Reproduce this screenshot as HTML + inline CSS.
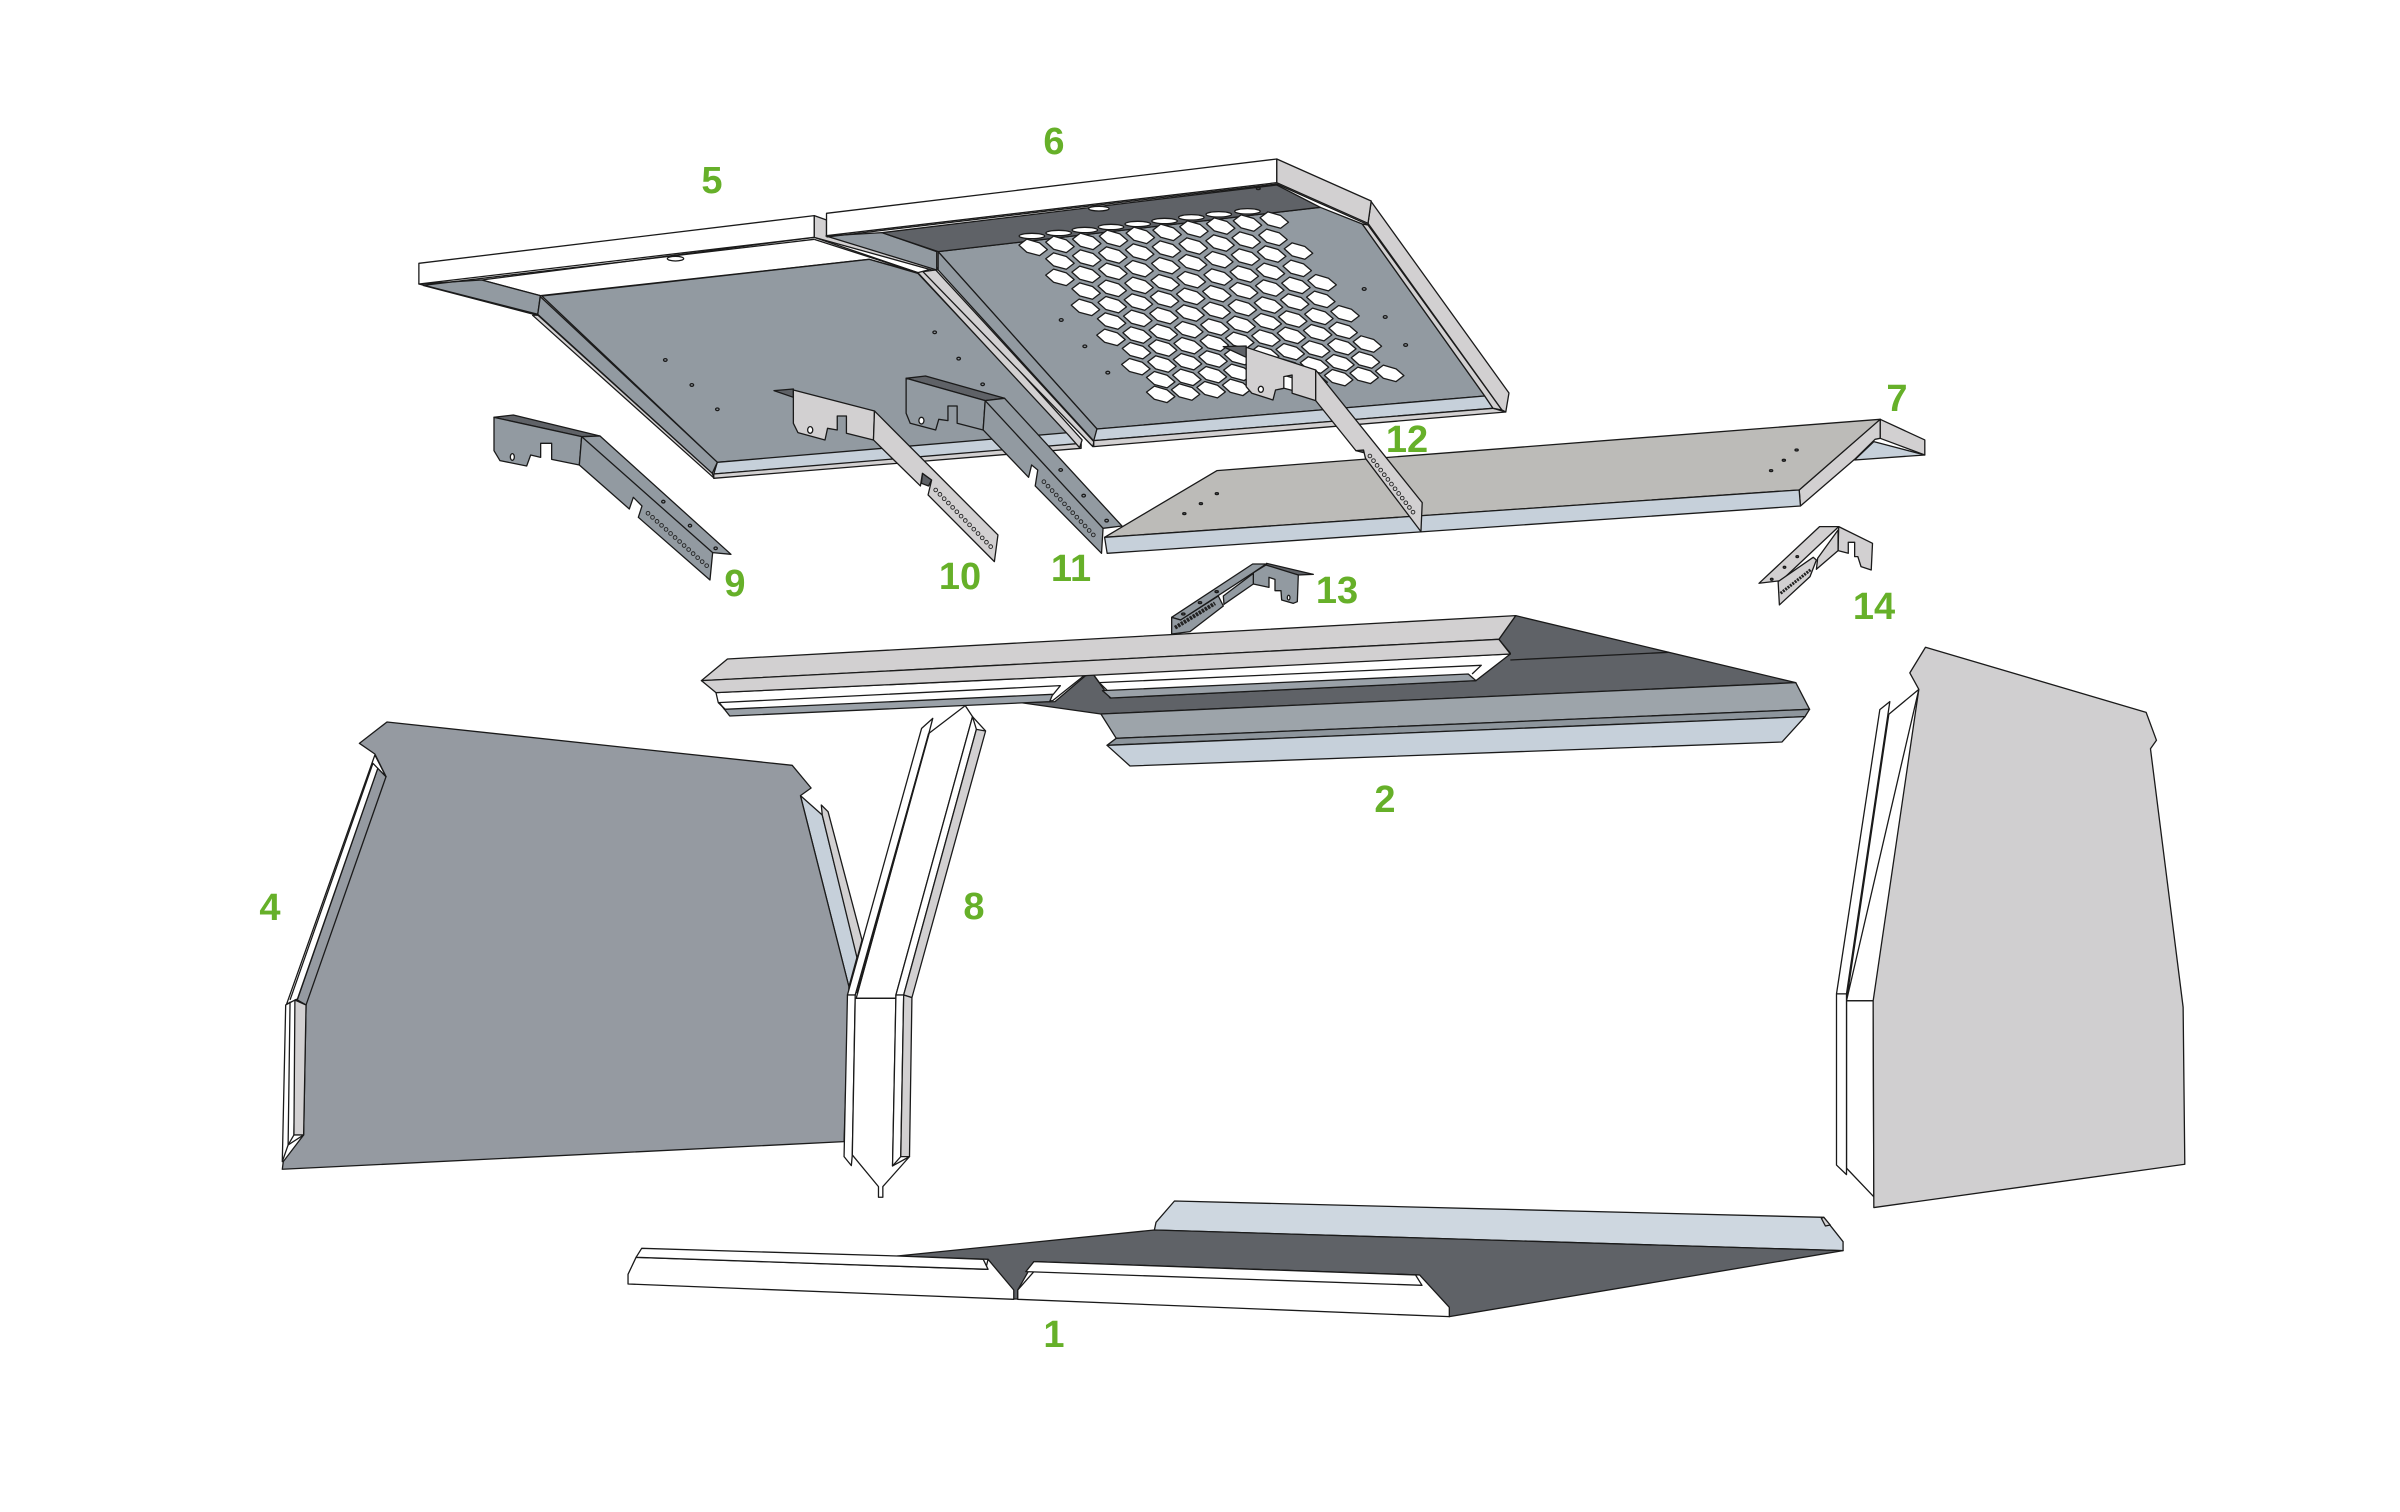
<!DOCTYPE html>
<html><head><meta charset="utf-8"><title>Exploded panel diagram</title>
<style>
html,body{margin:0;padding:0;background:#fff}
svg{display:block}
svg polygon,svg polyline,svg line,svg ellipse,svg path{vector-effect:non-scaling-stroke;stroke:#1a1a1a;stroke-width:1.3;stroke-linejoin:round}
.g{fill:#929aa1}.d{fill:#5f6267}.l{fill:#d2d0d1}.b{fill:#c6d0da}.w{fill:#fff}.t{fill:#bcbbb8}
svg line.no{stroke-linecap:round}
svg polygon.h{fill:#fff;stroke:#1c1c1c;stroke-width:1.3}
svg text{font-family:"Liberation Sans",sans-serif;font-weight:700;font-size:38px;fill:#66b029;text-anchor:middle}
</style></head>
<body>
<svg width="2400" height="1512" viewBox="0 0 2400 1512" xmlns="http://www.w3.org/2000/svg">
<defs><polygon id="h" class="h" points="-22.3,-5.6 -10,-23.5 10,-12.3 22.3,7.8 10,25.8 -10,15.7"/></defs>
<rect width="2400" height="1512" fill="#fff"/>

<!-- Panel 5 -->
<g transform="translate(400,130) scale(.5102,.3333)">
<polygon class="w" points="160,450 812,322 1015,428 920,388 275,497"/>
<polygon class="g" points="278,498 920,388 1015,430 1312,915 622,997"/>
<polygon class="g" points="37,462 160,450 275,497 270,553"/>
<polygon class="g" points="275,500 622,997 612,1030 270,553"/>
<polygon class="l" points="270,555 612,1030 616,1045 260,556"/>
<polygon class="b" points="622,997 1310,908 1335,945 615,1032"/>
<polygon class="l" points="615,1032 1335,940 1335,955 615,1045"/>
<polygon class="l" points="1015,428 1035,420 1337,930 1332,953 1310,915"/>
<polygon class="w" points="37,400 812,257 812,322 37,462"/>
<polygon class="l" points="812,257 836,270 836,317 1052,412 1052,424 812,322"/>
<polyline fill="none" points="45,466 812,328"/>
<polyline fill="none" points="45,466 270,556"/>
<polyline fill="none" points="812,328 1015,428"/>
<ellipse class="w" cx="540" cy="386" rx="16" ry="7"/>
<ellipse class="g" cx="520" cy="690" rx="3.5" ry="4"/><ellipse class="g" cx="572" cy="765" rx="3.5" ry="4"/><ellipse class="g" cx="622" cy="838" rx="3.5" ry="4"/>
<ellipse class="g" cx="1048" cy="607" rx="3.5" ry="4"/><ellipse class="g" cx="1095" cy="686" rx="3.5" ry="4"/><ellipse class="g" cx="1142" cy="763" rx="3.5" ry="4"/>
<!-- left parts of panel 6 -->
<polygon class="g" points="835,318 945,308 1052,365 1052,420"/>
<polygon class="l" points="1050,420 1360,935 1358,950 1025,425"/>
</g>

<!-- Panel 6 -->
<g transform="translate(1000,130) scale(.6378,.3333)">
<polygon class="g" points="-97,365 502,232 568,282 760,798 152,897"/>
<polygon class="d" points="-185,308 434,165 502,232 -97,365"/>
<polygon class="g" points="-97,365 152,897 148,935 -97,420"/>
<polygon class="b" points="152,897 760,798 773,835 147,932"/>
<polygon class="l" points="147,932 773,835 793,846 147,950"/>
<polygon class="l" points="568,282 760,798 773,835 787,840 577,285"/>
<polygon class="l" points="577,280 582,215 798,789 793,846 787,840"/>
<polygon class="w" points="-272,250 434,87 434,158 -272,317"/>
<polygon class="l" points="434,87 582,213 577,280 434,158"/>
<polyline fill="none" points="-272,321 434,162 577,284"/>
<ellipse class="w" cx="155" cy="236" rx="16" ry="7"/>
<ellipse class="d" cx="405" cy="176" rx="3" ry="3"/>
<ellipse class="w" cx="50" cy="318" rx="20" ry="8"/><ellipse class="w" cx="92" cy="309" rx="20" ry="8"/><ellipse class="w" cx="133" cy="300" rx="20" ry="8"/><ellipse class="w" cx="174" cy="291" rx="20" ry="8"/><ellipse class="w" cx="216" cy="282" rx="20" ry="8"/><ellipse class="w" cx="258" cy="273" rx="20" ry="8"/><ellipse class="w" cx="300" cy="262" rx="20" ry="8"/><ellipse class="w" cx="343" cy="253" rx="20" ry="8"/><ellipse class="w" cx="388" cy="244" rx="20" ry="8"/>
<g>
<use href="#h" x="52" y="351"/><use href="#h" x="94" y="342"/><use href="#h" x="136" y="333"/><use href="#h" x="178" y="324"/><use href="#h" x="220" y="315"/><use href="#h" x="262" y="306"/><use href="#h" x="304" y="296"/><use href="#h" x="346" y="287"/><use href="#h" x="388" y="278"/><use href="#h" x="430" y="269"/>
</g>
<g transform="translate(0,2)">
<use href="#h" x="94" y="390"/><use href="#h" x="136" y="381"/><use href="#h" x="177" y="372"/><use href="#h" x="219" y="363"/><use href="#h" x="261" y="354"/><use href="#h" x="303" y="345"/><use href="#h" x="345" y="336"/><use href="#h" x="386" y="327"/><use href="#h" x="428" y="319"/>
</g>
<g transform="translate(0,3)">
<use href="#h" x="94" y="438"/><use href="#h" x="135" y="429"/><use href="#h" x="177" y="420"/><use href="#h" x="218" y="412"/><use href="#h" x="260" y="403"/><use href="#h" x="302" y="394"/><use href="#h" x="343" y="385"/><use href="#h" x="385" y="377"/><use href="#h" x="426" y="368"/><use href="#h" x="468" y="359"/>
</g>
<g transform="translate(0,5)">
<use href="#h" x="135" y="477"/><use href="#h" x="176" y="469"/><use href="#h" x="218" y="460"/><use href="#h" x="259" y="452"/><use href="#h" x="300" y="443"/><use href="#h" x="342" y="435"/><use href="#h" x="383" y="426"/><use href="#h" x="424" y="418"/><use href="#h" x="466" y="409"/>
</g>
<g transform="translate(0,6)">
<use href="#h" x="134" y="525"/><use href="#h" x="176" y="517"/><use href="#h" x="217" y="509"/><use href="#h" x="258" y="500"/><use href="#h" x="299" y="492"/><use href="#h" x="340" y="484"/><use href="#h" x="382" y="475"/><use href="#h" x="423" y="467"/><use href="#h" x="464" y="459"/><use href="#h" x="505" y="451"/>
</g>
<g transform="translate(0,7)">
<use href="#h" x="175" y="565"/><use href="#h" x="216" y="557"/><use href="#h" x="257" y="549"/><use href="#h" x="298" y="541"/><use href="#h" x="339" y="533"/><use href="#h" x="380" y="525"/><use href="#h" x="421" y="517"/><use href="#h" x="462" y="508"/><use href="#h" x="503" y="500"/>
</g>
<g transform="translate(0,8)">
<use href="#h" x="174" y="613"/><use href="#h" x="215" y="606"/><use href="#h" x="256" y="598"/><use href="#h" x="296" y="590"/><use href="#h" x="337" y="582"/><use href="#h" x="378" y="574"/><use href="#h" x="419" y="566"/><use href="#h" x="459" y="558"/><use href="#h" x="500" y="550"/><use href="#h" x="541" y="542"/>
</g>
<g transform="translate(0,7)">
<use href="#h" x="214" y="654"/><use href="#h" x="255" y="646"/><use href="#h" x="295" y="639"/><use href="#h" x="336" y="631"/><use href="#h" x="376" y="623"/><use href="#h" x="417" y="616"/><use href="#h" x="457" y="608"/><use href="#h" x="498" y="600"/><use href="#h" x="538" y="593"/>
</g>
<g transform="translate(0,6)">
<use href="#h" x="213" y="703"/><use href="#h" x="254" y="695"/><use href="#h" x="294" y="688"/><use href="#h" x="334" y="680"/><use href="#h" x="374" y="673"/><use href="#h" x="415" y="665"/><use href="#h" x="455" y="658"/><use href="#h" x="495" y="650"/><use href="#h" x="536" y="643"/><use href="#h" x="576" y="635"/>
</g>
<g transform="translate(0,4)">
<use href="#h" x="252" y="744"/><use href="#h" x="293" y="737"/><use href="#h" x="333" y="729"/><use href="#h" x="373" y="722"/><use href="#h" x="413" y="715"/><use href="#h" x="453" y="707"/><use href="#h" x="493" y="700"/><use href="#h" x="533" y="693"/><use href="#h" x="573" y="685"/>
</g>
<g>
<use href="#h" x="252" y="792"/><use href="#h" x="291" y="785"/><use href="#h" x="331" y="778"/><use href="#h" x="371" y="771"/><use href="#h" x="411" y="764"/><use href="#h" x="451" y="757"/><use href="#h" x="491" y="749"/><use href="#h" x="531" y="742"/><use href="#h" x="571" y="735"/><use href="#h" x="611" y="729"/>
</g>
<ellipse class="g" cx="96" cy="570" rx="3" ry="4"/><ellipse class="g" cx="133" cy="649" rx="3" ry="4"/><ellipse class="g" cx="169" cy="728" rx="3" ry="4"/>
<ellipse class="g" cx="571" cy="477" rx="3" ry="4"/><ellipse class="g" cx="604" cy="561" rx="3" ry="4"/><ellipse class="g" cx="636" cy="645" rx="3" ry="4"/>

<!-- Panel 7 -->
<polygon class="b" points="1340,990 1370,935 1450,975"/>
<polygon class="l" points="1380,868 1450,930 1450,975 1380,925"/>
<polygon class="l" points="1380,868 1253,1080 1255,1128 1340,988 1372,928 1380,925"/>
<polygon class="t" points="340,1022 1380,868 1253,1080 164,1222"/>
<polygon class="b" points="164,1222 1253,1080 1255,1128 168,1270"/>
<ellipse class="d" cx="1249" cy="960" rx="2.5" ry="3"/><ellipse class="d" cx="1229" cy="991" rx="2.5" ry="3"/><ellipse class="d" cx="1209" cy="1022" rx="2.5" ry="3"/>
<ellipse class="d" cx="340" cy="1091" rx="2.5" ry="3"/><ellipse class="d" cx="315" cy="1121" rx="2.5" ry="3"/><ellipse class="d" cx="289" cy="1151" rx="2.5" ry="3"/>

<!-- Bracket 12 -->
<polygon class="d" points="350,650 386,648 386,682"/>
<polygon class="l" points="386,652 495,720 495,812 458,790 458,735 445,740 445,775 432,780 428,810 395,790 386,770"/>
<polygon class="d" points="560,925 572,950 570,968 558,962"/>
<polygon class="l" points="495,720 662,1118 660,1205 573,985 570,960 558,962 495,812"/>
<ellipse class="w" cx="409" cy="778" rx="4" ry="9"/>

<!-- Bracket 14 -->
<polygon class="l" points="1315,1190 1368,1240 1366,1320 1350,1310 1345,1280 1340,1280 1340,1237 1330,1237 1330,1270 1314,1262"/>
<polygon class="l" points="1285,1190 1315,1190 1225,1352 1190,1360"/>
<polygon class="l" points="1282,1285 1314,1200 1314,1262 1280,1318"/>
<polygon class="l" points="1220,1355 1275,1282 1280,1290 1270,1340 1222,1425"/>
<ellipse class="d" cx="1250" cy="1280" rx="2" ry="3"/><ellipse class="d" cx="1230" cy="1312" rx="2" ry="3"/><ellipse class="d" cx="1210" cy="1348" rx="2" ry="3"/>
</g>

<!-- Brackets 10 & 11 -->
<g transform="translate(400,130) scale(.5102,.3333)">
<polygon class="d" points="733,782 771,777 771,802"/>
<polygon class="l" points="771,780 930,843 928,930 875,910 875,858 857,858 857,900 838,895 833,930 780,908 771,880"/>
<polygon class="d" points="1024,1030 1042,1050 1036,1068 1022,1060"/>
<polygon class="l" points="930,843 1172,1215 1165,1295 1035,1095 1042,1050 1024,1030 1020,1068 928,930"/>
<ellipse class="w" cx="804" cy="900" rx="5" ry="10"/>

<polygon class="d" points="992,745 1030,738 1185,805 1147,812"/>
<polygon class="g" points="992,745 1147,812 1143,900 1092,880 1092,828 1074,828 1074,872 1056,868 1050,900 1000,880 992,850"/>
<polygon class="g" points="1147,812 1185,805 1415,1188 1378,1195 1375,1270 1245,1068 1250,1020 1238,1005 1232,1042 1143,900"/>
<polyline fill="none" points="1147,812 1378,1195"/>
<ellipse class="w" cx="1022" cy="872" rx="5" ry="10"/>
<ellipse class="g" cx="1295" cy="1020" rx="3.5" ry="4"/><ellipse class="g" cx="1340" cy="1097" rx="3.5" ry="4"/><ellipse class="g" cx="1385" cy="1172" rx="3.5" ry="4"/>
</g>

<!-- Bracket 9 -->
<g transform="translate(490,410) scale(.3333)">
<polygon class="d" points="12,22 70,15 330,78 275,80"/>
<polygon class="g" points="12,22 275,80 268,165 185,148 185,100 152,100 152,142 122,135 110,168 30,152 12,122"/>
<polygon class="g" points="275,80 330,78 723,433 668,428 660,510 445,322 456,288 430,262 418,297 268,165"/>
<polyline fill="none" points="275,80 668,428"/>
<ellipse class="w" cx="67" cy="141" rx="6" ry="10"/>
<ellipse class="g" cx="520" cy="275" rx="5" ry="4"/><ellipse class="g" cx="600" cy="347" rx="5" ry="4"/><ellipse class="g" cx="677" cy="415" rx="5" ry="4"/>
</g>

<!-- Bracket hole rows -->
<line class="no" x1="648" y1="513.3" x2="706.7" y2="565.7" stroke-dasharray="0 6.05" style="stroke:#222;stroke-width:4.6"/>
<line class="no" x1="648" y1="513.3" x2="706.7" y2="565.7" stroke-dasharray="0 6.05" style="stroke:#929aa1;stroke-width:2.8"/>
<line class="no" x1="935.7" y1="490" x2="990.8" y2="546.7" stroke-dasharray="0 6.07" style="stroke:#222;stroke-width:4.6"/>
<line class="no" x1="935.7" y1="490" x2="990.8" y2="546.7" stroke-dasharray="0 6.07" style="stroke:#d2d0d1;stroke-width:2.8"/>
<line class="no" x1="1043.9" y1="481.7" x2="1097.4" y2="539.3" stroke-dasharray="0 6.05" style="stroke:#222;stroke-width:4.6"/>
<line class="no" x1="1043.9" y1="481.7" x2="1097.4" y2="539.3" stroke-dasharray="0 6.05" style="stroke:#929aa1;stroke-width:2.8"/>
<line class="no" x1="1369.9" y1="456" x2="1416.5" y2="516.7" stroke-dasharray="0 5.9" style="stroke:#222;stroke-width:4.6"/>
<line class="no" x1="1369.9" y1="456" x2="1416.5" y2="516.7" stroke-dasharray="0 5.9" style="stroke:#d2d0d1;stroke-width:2.8"/>
<line x1="1780.6" y1="593.3" x2="1811.2" y2="569.3" style="stroke:#222;stroke-width:3;stroke-dasharray:2 1"/>

<!-- Bracket 13 -->
<g transform="translate(1170,560) scale(.3333)">
<polygon class="d" points="290,10 430,43 385,45 288,18"/>
<polygon class="g" points="250,38 288,15 385,45 382,125 370,130 335,120 333,92 315,92 315,58 297,52 297,82 250,72"/>
<polygon class="g" points="160,108 250,40 250,72 162,133"/>
<polygon class="g" points="5,172 248,12 288,12 250,38 32,180"/>
<polygon class="g" points="5,172 32,180 145,108 160,138 60,215 5,222"/>
<ellipse class="w" cx="356" cy="113" rx="4" ry="7"/>
<ellipse class="d" cx="40" cy="162" rx="5" ry="3"/><ellipse class="d" cx="90" cy="128" rx="5" ry="3"/><ellipse class="d" cx="140" cy="95" rx="5" ry="3"/>
</g>
<line x1="1175" y1="627.7" x2="1215" y2="603.3" style="stroke:#222;stroke-width:4;stroke-dasharray:2.5 1"/>

<!-- Part 4 & 8 -->
<g transform="translate(260,700) scale(.4847,.3333)">
<polygon class="b" points="1115,287 1160,345 1232,770 1215,860"/>
<polygon class="l" points="1160,345 1158,315 1172,335 1242,720 1232,775"/>
<polygon points="262,66 1098,196 1137,264 1115,287 1215,860 1205,1325 46,1408 48,1385 90,1305 95,915 77,900 243,205 260,230 237,162 205,130" fill="#959aa1"/>
<polyline fill="none" points="95,915 260,230"/>
<polygon class="w" points="55,912 237,165 260,230 243,205 77,898"/>
<polyline fill="none" points="62,900 233,190 243,205"/>
<polygon class="w" points="53,915 75,898 70,1305 58,1335 46,1385"/>
<polyline fill="none" points="62,905 58,1335 90,1305"/>
<polygon class="l" points="72,900 95,915 90,1305 70,1305"/>
<!-- part 8 -->
<polygon class="w" points="1380,100 1455,17 1470,50 1312,885 1312,895 1230,895"/>
<polygon class="w" points="1212,885 1365,85 1388,55 1380,100 1228,885"/>
<polyline fill="none" style="stroke-width:1.8" points="1380,100 1232,880"/>
<polygon class="w" points="1470,50 1478,88 1328,885 1312,885"/>
<polygon class="l" points="1478,88 1497,93 1345,893 1328,885"/>
<polyline fill="none" points="1470,50 1497,93"/>
<polygon class="w" points="1212,885 1228,885 1222,1365 1220,1397 1205,1370"/>
<polygon class="w" points="1228,895 1312,895 1305,1398 1340,1370 1285,1460 1285,1492 1276,1492 1276,1460 1222,1365"/>
<polygon class="w" points="1312,885 1328,885 1322,1370 1305,1398"/>
<polygon class="l" points="1328,885 1345,893 1340,1370 1322,1370"/>
</g>

<!-- Part 2 -->
<g transform="translate(680,560) scale(.7653,.3333)">
<polygon class="d" points="1092,167 1458,368 550,462 445,428 490,425 530,347 540,343 562,414 1040,362 1085,280 1070,238"/>
<polyline fill="none" points="1085,300 1292,277"/>
<polygon fill="#9da4aa" points="550,462 1458,368 1476,448 570,535"/>
<polygon fill="#8d959c" points="570,535 1476,448 1470,470 558,556"/>
<polygon class="b" points="558,556 1470,470 1440,546 588,618"/>
<polygon class="w" points="47,398 528,347 487,422 60,450 50,428"/>
<polyline fill="none" points="50,428 497,377 487,405"/>
<polygon class="w" points="540,343 1085,282 1040,362 560,395 548,368"/>
<polyline fill="none" points="548,368 1047,316 1035,342"/>
<polygon fill="#9aa1a8" points="52,430 58,448 487,403 483,425 65,468"/>
<polygon fill="#9aa1a8" points="552,392 1030,342 1040,362 563,414"/>
<polygon class="l" points="62,297 1092,167 1070,238 28,362"/>
<polygon class="l" points="28,362 1070,238 1085,282 530,347 47,398"/>
</g>

<!-- Part 1 -->
<g transform="translate(620,1180) scale(.8036,.3333)">
<polygon fill="#ced7e0" points="690,63 1498,112 1522,185 1522,212 665,150 667,127"/>
<polygon class="d" points="345,228 665,150 1522,212 1032,410 995,285 515,245 495,330 495,357 487,357 487,330 458,238"/>
<polygon class="w" points="20,232 455,268 458,238 490,330 490,358 10,312 10,283"/>
<polygon class="w" points="27,205 345,228 452,238 458,268 20,232"/>
<polygon class="w" points="515,245 995,285 1032,382 1032,410 495,358 495,330 515,275"/>
<polygon class="w" points="505,275 515,245 990,285 998,316"/>
<polygon class="l" points="1498,112 1506,135 1500,138 1495,115"/>
</g>

<!-- Part 3 -->
<g transform="translate(1820.5,630) scale(.3333,.383)">
<polygon class="w" points="295,155 205,220 78,968 158,968 160,1480 78,1405 78,968"/>
<polygon class="w" points="178,208 208,187 78,950 78,1422 48,1397 48,950"/>
<polyline fill="none" points="48,950 78,950"/>
<polyline fill="none" points="78,968 158,968"/>
<polygon fill="#d0cfd0" points="315,45 977,215 1008,288 990,310 1088,985 1093,1395 160,1508 158,968 295,155 268,112"/>
</g>

<!-- Labels -->
<text x="1054" y="1347">1</text>
<text x="1385" y="812">2</text>
<text x="270" y="920">4</text>
<text x="712" y="193">5</text>
<text x="1054" y="154">6</text>
<text x="1897" y="411">7</text>
<text x="974" y="919">8</text>
<text x="735" y="596">9</text>
<text x="960" y="589">10</text>
<text x="1071" y="581">11</text>
<text x="1407" y="452">12</text>
<text x="1337" y="603">13</text>
<text x="1874" y="619">14</text>
</svg>
</body></html>
